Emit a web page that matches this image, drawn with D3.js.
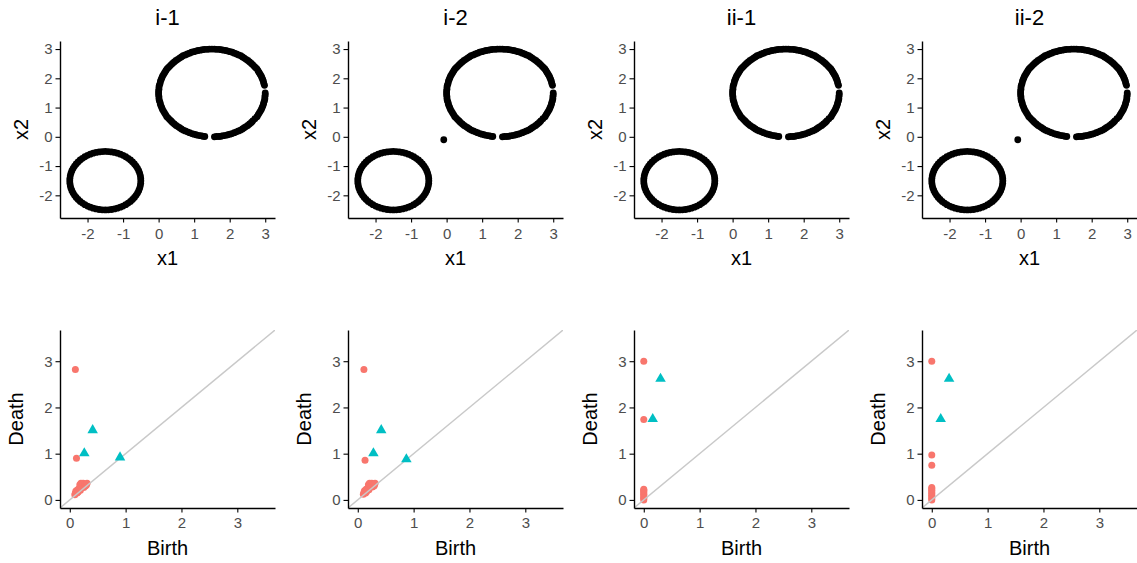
<!DOCTYPE html>
<html><head><meta charset="utf-8">
<script src="https://cdn.jsdelivr.net/npm/d3@7"></script>
<style>
html,body{margin:0;padding:0;background:#fff;}
svg{display:block;font-family:"Liberation Sans",Arial,Helvetica,sans-serif;}
</style></head>
<body><svg id="chart" width="1137" height="563"></svg>
<script>
// ---------------- data ----------------
const panelTitles = ["i-1", "i-2", "ii-1", "ii-2"];
const hasOutlier = [false, true, false, true];

const smallCircle = [
[-0.5,-1.5],[-0.504,-1.413],[-0.515,-1.326],[-0.534,-1.241],[-0.56,-1.158],[-0.594,-1.077],[-0.634,-1],[-0.681,-0.926],[-0.734,-0.857],[-0.793,-0.793],[-0.857,-0.734],[-0.926,-0.681],[-1,-0.634],[-1.077,-0.594],[-1.158,-0.56],[-1.241,-0.534],[-1.326,-0.515],[-1.413,-0.504],
[-1.5,-0.5],[-1.587,-0.504],[-1.674,-0.515],[-1.759,-0.534],[-1.842,-0.56],[-1.923,-0.594],[-2,-0.634],[-2.074,-0.681],[-2.143,-0.734],[-2.207,-0.793],[-2.266,-0.857],[-2.319,-0.926],[-2.366,-1],[-2.406,-1.077],[-2.44,-1.158],[-2.466,-1.241],[-2.485,-1.326],[-2.496,-1.413],
[-2.5,-1.5],[-2.496,-1.587],[-2.485,-1.674],[-2.466,-1.759],[-2.44,-1.842],[-2.406,-1.923],[-2.366,-2],[-2.319,-2.074],[-2.266,-2.143],[-2.207,-2.207],[-2.143,-2.266],[-2.074,-2.319],[-2,-2.366],[-1.923,-2.406],[-1.842,-2.44],[-1.759,-2.466],[-1.674,-2.485],[-1.587,-2.496],
[-1.5,-2.5],[-1.413,-2.496],[-1.326,-2.485],[-1.241,-2.466],[-1.158,-2.44],[-1.077,-2.406],[-1,-2.366],[-0.926,-2.319],[-0.857,-2.266],[-0.793,-2.207],[-0.734,-2.143],[-0.681,-2.074],[-0.634,-2],[-0.594,-1.923],[-0.56,-1.842],[-0.534,-1.759],[-0.515,-1.674],[-0.504,-1.587]
];

const largeCircle = [
[3.00,1.50],[2.98,1.76],[2.96,1.82],[2.95,1.89],[2.93,1.95],[2.91,2.01],[2.89,2.07],[2.86,2.13],[2.83,2.19],[2.80,2.25],[2.77,2.31],[2.73,2.36],[2.69,2.41],[2.65,2.46],[2.61,2.51],[2.56,2.56],[2.51,2.61],[2.46,2.65],[2.41,2.69],[2.36,2.73],[2.31,2.77],[2.25,2.80],[2.19,2.83],[2.13,2.86],[2.07,2.89],[2.01,2.91],[1.95,2.93],[1.89,2.95],[1.82,2.96],[1.76,2.98],[1.70,2.99],[1.63,2.99],[1.57,3.00],
[1.50,3.00],[1.43,3.00],[1.37,2.99],[1.30,2.99],[1.24,2.98],[1.18,2.96],[1.11,2.95],[1.05,2.93],[0.99,2.91],[0.93,2.89],[0.87,2.86],[0.81,2.83],[0.75,2.80],[0.69,2.77],[0.64,2.73],[0.59,2.69],[0.54,2.65],[0.49,2.61],[0.44,2.56],[0.39,2.51],[0.35,2.46],[0.31,2.41],[0.27,2.36],[0.23,2.31],[0.20,2.25],[0.17,2.19],[0.14,2.13],[0.11,2.07],[0.09,2.01],[0.07,1.95],[0.05,1.89],[0.04,1.82],[0.02,1.76],[0.01,1.70],[0.01,1.63],[0.00,1.57],
[0.00,1.50],[0.00,1.43],[0.01,1.37],[0.01,1.30],[0.02,1.24],[0.04,1.18],[0.05,1.11],[0.07,1.05],[0.09,0.99],[0.11,0.93],[0.14,0.87],[0.17,0.81],[0.20,0.75],[0.23,0.69],[0.27,0.64],[0.31,0.59],[0.35,0.54],[0.39,0.49],[0.44,0.44],[0.49,0.39],[0.54,0.35],[0.59,0.31],[0.64,0.27],[0.69,0.23],[0.75,0.20],[0.81,0.17],[0.87,0.14],[0.93,0.11],[0.99,0.09],[1.05,0.07],[1.11,0.05],[1.18,0.04],[1.24,0.02],[1.30,0.01],
[1.57,0.00],[1.63,0.01],[1.70,0.01],[1.76,0.02],[1.82,0.04],[1.89,0.05],[1.95,0.07],[2.01,0.09],[2.07,0.11],[2.13,0.14],[2.19,0.17],[2.25,0.20],[2.31,0.23],[2.36,0.27],[2.41,0.31],[2.46,0.35],[2.51,0.39],[2.56,0.44],[2.61,0.49],[2.65,0.54],[2.71,0.62],[2.77,0.69],[2.80,0.75],[2.83,0.81],[2.86,0.87],[2.89,0.93],[2.91,0.99],[2.93,1.05],[2.95,1.11],[2.96,1.18],[2.98,1.24],[2.99,1.30],[2.99,1.37],[3.00,1.43]
];

const outlierPoints = [[-0.08, -0.10]];

// persistence diagrams: [birth, death]
const dim0_i1 = [[0.10,2.82],[0.12,0.90],[0.09,0.11],[0.10,0.15],[0.11,0.19],[0.13,0.15],[0.14,0.22],[0.15,0.17],[0.17,0.25],[0.18,0.33],[0.19,0.21],[0.20,0.36],[0.21,0.27],[0.23,0.31],[0.24,0.36],[0.25,0.27],[0.27,0.34],[0.28,0.30],[0.30,0.33],[0.31,0.36]];
const dim1_i1 = [[0.26,1.01],[0.41,1.51],[0.90,0.92]];
const dim0_i2 = [[0.11,2.82],[0.13,0.86],[0.10,0.12],[0.11,0.16],[0.12,0.20],[0.14,0.15],[0.15,0.23],[0.16,0.18],[0.18,0.26],[0.19,0.33],[0.20,0.22],[0.21,0.36],[0.22,0.28],[0.24,0.31],[0.25,0.36],[0.26,0.28],[0.28,0.34],[0.29,0.30],[0.30,0.33],[0.31,0.36]];
const dim1_i2 = [[0.28,1.01],[0.42,1.51],[0.87,0.88]];
const dim0_ii1 = [[0,3.00],[0,1.74],[0,0.00],[0,0.03],[0,0.06],[0,0.09],[0,0.12],[0,0.15],[0,0.18],[0,0.21],[0,0.23]];
const dim1_ii1 = [[0.16,1.75],[0.30,2.62]];
const dim0_ii2 = [[0,3.00],[0,0.97],[0,0.75],[0,0.00],[0,0.03],[0,0.07],[0,0.10],[0,0.14],[0,0.17],[0,0.21],[0,0.24],[0,0.27]];
const dim1_ii2 = [[0.16,1.75],[0.31,2.62]];

const dim0Sets = [dim0_i1, dim0_i2, dim0_ii1, dim0_ii2];
const dim1Sets = [dim1_i1, dim1_i2, dim1_ii1, dim1_ii2];

const topTicks = [-2, -1, 0, 1, 2, 3];
const bottomTicks = [0, 1, 2, 3];
const topDomain = [-2.775, 3.275];
const bottomDomain = [-0.175, 3.675];

// ---------------- layout ----------------
const svg = d3.select("#chart");
const panelLefts = [60, 348, 634, 922];
const panelW = 215;
const topY = [41, 218];
const botY = [330, 508];
const tickColor = "#4D4D4D";
const red = "#F8766D", teal = "#00BFC4";
const tickFont = 15, axisTitleFont = 20, titleFont = 22;

function styleAxis(g) {
  g.select(".domain").attr("stroke", "#000").attr("stroke-width", 1.4);
  g.selectAll(".tick line").attr("stroke", "#000").attr("stroke-width", 1.1);
  g.selectAll(".tick text").attr("fill", tickColor).attr("font-size", tickFont)
    .attr("font-family", "Liberation Sans, Arial, sans-serif");
}

panelTitles.forEach((t, i) => {
  const L = panelLefts[i];
  // ----- top scatter -----
  const x = d3.scaleLinear().domain(topDomain).range([L, L + panelW]);
  const y = d3.scaleLinear().domain(topDomain).range([topY[1], topY[0]]);
  const gT = svg.append("g");
  const pts = smallCircle.concat(largeCircle).concat(hasOutlier[i] ? outlierPoints : []);
  gT.append("g").selectAll("circle").data(pts).join("circle")
    .attr("cx", d => x(d[0])).attr("cy", d => y(d[1])).attr("r", 3.4).attr("fill", "#000");

  const ax = gT.append("g").attr("transform", `translate(0,${topY[1]})`)
    .call(d3.axisBottom(x).tickValues(topTicks).tickFormat(d => String(d)).tickSize(4.5).tickSizeOuter(0).tickPadding(6));
  styleAxis(ax);
  const ay = gT.append("g").attr("transform", `translate(${L},0)`)
    .call(d3.axisLeft(y).tickValues(topTicks).tickFormat(d => String(d)).tickSize(4.5).tickSizeOuter(0).tickPadding(3));
  styleAxis(ay);

  gT.append("text").attr("x", L + panelW / 2).attr("y", 25).attr("text-anchor", "middle")
    .attr("font-size", titleFont).attr("fill", "#000").text(t);
  gT.append("text").attr("x", L + panelW / 2).attr("y", topY[1] + 40).attr("dy", "0.35em")
    .attr("text-anchor", "middle").attr("font-size", axisTitleFont).attr("fill", "#000").text("x1");
  gT.append("text").attr("transform", `translate(${L - 39},${(topY[0] + topY[1]) / 2}) rotate(-90)`)
    .attr("dy", "0.35em").attr("text-anchor", "middle").attr("font-size", axisTitleFont).attr("fill", "#000").text("x2");

  // ----- bottom persistence diagram -----
  const bx = d3.scaleLinear().domain(bottomDomain).range([L, L + panelW]);
  const by = d3.scaleLinear().domain(bottomDomain).range([botY[1], botY[0]]);
  const gB = svg.append("g");
  const clipId = "clip" + i;
  gB.append("clipPath").attr("id", clipId).append("rect")
    .attr("x", L).attr("y", botY[0]).attr("width", panelW).attr("height", botY[1] - botY[0]);

  gB.append("g").selectAll("circle").data(dim0Sets[i]).join("circle")
    .attr("cx", d => bx(d[0])).attr("cy", d => by(d[1])).attr("r", 3.5).attr("fill", red);

  gB.append("line").attr("clip-path", `url(#${clipId})`)
    .attr("x1", bx(bottomDomain[0])).attr("y1", by(bottomDomain[0]))
    .attr("x2", bx(bottomDomain[1])).attr("y2", by(bottomDomain[1]))
    .attr("stroke", "#C9C9C9").attr("stroke-width", 1.4);

  gB.append("g").selectAll("path").data(dim1Sets[i]).join("path")
    .attr("d", d3.symbol(d3.symbolTriangle, 48))
    .attr("transform", d => `translate(${bx(d[0])},${by(d[1])})`).attr("fill", teal);

  const bax = gB.append("g").attr("transform", `translate(0,${botY[1]})`)
    .call(d3.axisBottom(bx).tickValues(bottomTicks).tickFormat(d => String(d)).tickSize(4.5).tickSizeOuter(0).tickPadding(5));
  styleAxis(bax);
  const bay = gB.append("g").attr("transform", `translate(${L},0)`)
    .call(d3.axisLeft(by).tickValues(bottomTicks).tickFormat(d => String(d)).tickSize(4.5).tickSizeOuter(0).tickPadding(3));
  styleAxis(bay);

  gB.append("text").attr("x", L + panelW / 2).attr("y", botY[1] + 40).attr("dy", "0.35em")
    .attr("text-anchor", "middle").attr("font-size", axisTitleFont).attr("fill", "#000").text("Birth");
  gB.append("text").attr("transform", `translate(${L - 44},${(botY[0] + botY[1]) / 2}) rotate(-90)`)
    .attr("dy", "0.35em").attr("text-anchor", "middle").attr("font-size", axisTitleFont).attr("fill", "#000").text("Death");
});
</script>
</body></html>
